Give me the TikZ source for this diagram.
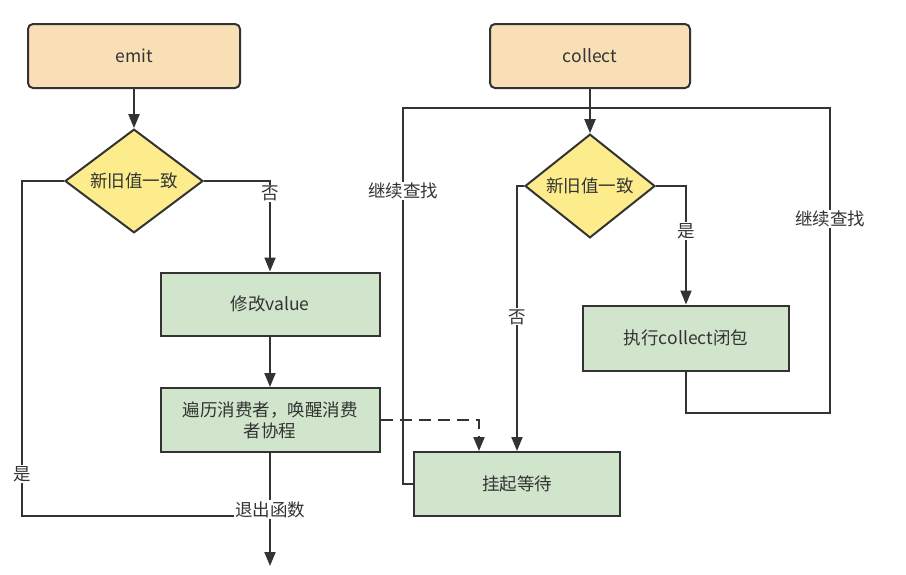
\documentclass[tikz,border=0pt]{standalone}
\usepackage{fontspec}
\setmainfont{Noto Sans CJK SC}
\usetikzlibrary{shapes.geometric,arrows.meta}
\definecolor{strokec}{HTML}{333333}
\definecolor{orangef}{HTML}{F8DFB6}
\definecolor{greenf}{HTML}{D0E5CB}
\definecolor{yellowf}{HTML}{FCEC8C}
\tikzset{
  base/.style={draw=strokec, line width=2pt, inner sep=0pt, text=strokec,
    font=\fontsize{17.5}{23}\selectfont, align=center},
  startbox/.style={base, rectangle, rounded corners=5pt, fill=orangef},
  procbox/.style={base, rectangle, fill=greenf},
  decide/.style={base, diamond, fill=yellowf, minimum width=138pt, minimum height=101pt},
  conn/.style={draw=strokec, line width=2pt, -{Triangle[length=14pt,width=11pt]}},
  plain/.style={draw=strokec, line width=2pt},
  dashconn/.style={conn, dash pattern=on 12pt off 7pt},
  lab/.style={fill=white, inner sep=1pt, text=strokec, font=\fontsize{17.5}{20}\selectfont}
}
\begin{document}
\begin{tikzpicture}[x=1pt,y=-1pt]
\useasboundingbox (0,0) rectangle (906,574);
% left flow
\node[startbox, minimum width=212pt, minimum height=64pt] (emit) at (134,56) {emit};
\node[decide] (d1) at (134,181) {新旧值一致};
\node[procbox, minimum width=219pt, minimum height=63pt] (modify) at (270,304) {修改value};
\node[procbox, minimum width=219pt, minimum height=64pt] (wake) at (270,420) {遍历消费者，唤醒消费\\[-2pt]者协程};
\coordinate (exitend) at (270,566);
\coordinate (exitjoin) at (270,516);
\coordinate (leftcorner) at (22,516);
% right flow
\node[startbox, minimum width=200pt, minimum height=64pt] (collect) at (590,56) {collect};
\node[decide, minimum width=130pt] (d2) at (590,186) {新旧值一致};
\node[procbox, minimum width=206pt, minimum height=65pt] (exec) at (686,338) {执行collect闭包};
\node[procbox, minimum width=206pt, minimum height=64pt] (suspend) at (517,484) {挂起等待};
\coordinate (loopL) at (403,108);
\coordinate (loopR) at (830,108);
\coordinate (loopRB) at (830,413);
\coordinate (loopLB) at (403,484);

% left connectors
\draw[conn] (emit) -- (d1);
\draw[conn] (d1.east) -| node[lab, pos=0.57] {否} (modify.north);
\draw[conn] (modify) -- (wake);
\draw[plain] (d1.west) -| node[lab, pos=0.9375] {是} (leftcorner) -- (exitjoin);
\draw[conn] (wake.south) -- node[lab, pos=0.5] {退出函数} (exitend);
\draw[dashconn] (wake.east) -| ([xshift=-38pt]suspend.north);

% right connectors
\draw[plain] (exec.south) |- (loopRB) -- node[lab, pos=0.635] {继续查找} (loopR) -- (loopL) -- node[lab, pos=0.22] {继续查找} (loopLB) -- (suspend.west);
\draw[conn] (collect) -- (d2);
\draw[conn] (d2.east) -| node[lab, pos=0.69] {是} (exec.north);
\draw[conn] (d2.west) -| node[lab, pos=0.747] {否} (suspend.north);
\end{tikzpicture}
\end{document}
